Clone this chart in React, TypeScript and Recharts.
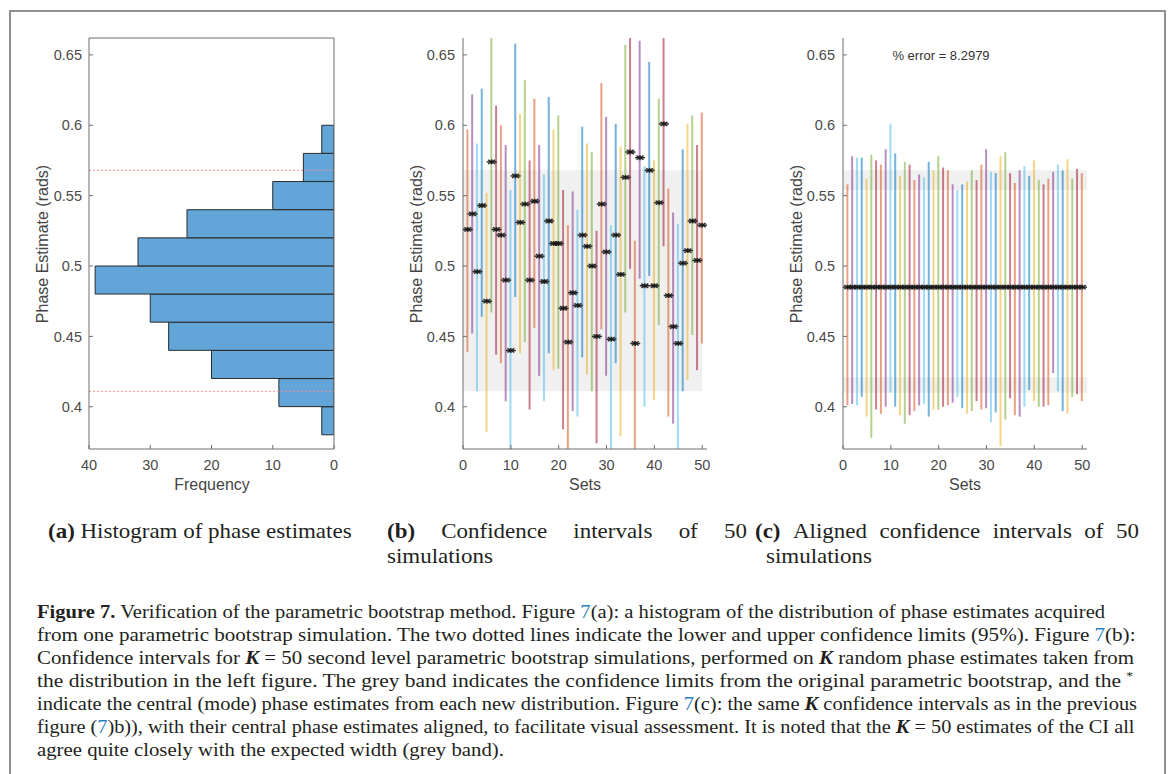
import { useLayoutEffect, useRef, useState } from 'react'
import { ComposedChart, Bar, Cell, Scatter, XAxis, YAxis, ReferenceArea, ReferenceLine } from 'recharts'

// (a) histogram of phase estimates
const histBinCentres = [0.39, 0.41, 0.43, 0.45, 0.47, 0.49, 0.51, 0.53, 0.55, 0.57, 0.59]
const histCounts = [2, 9, 20, 27, 30, 39, 32, 24, 10, 5, 2]
const ciLimits = [0.411, 0.568]

// (b) confidence intervals of 50 simulations
const setCentres = [
  0.526, 0.537, 0.496, 0.543, 0.475, 0.574, 0.526, 0.522, 0.49, 0.44,
  0.564, 0.531, 0.544, 0.49, 0.546, 0.507, 0.489, 0.532, 0.516, 0.516,
  0.47, 0.446, 0.481, 0.472, 0.522, 0.514, 0.5, 0.45, 0.544, 0.51,
  0.448, 0.522, 0.494, 0.563, 0.581, 0.445, 0.577, 0.486, 0.568, 0.486,
  0.545, 0.601, 0.479, 0.457, 0.445, 0.502, 0.511, 0.532, 0.504, 0.529,
]
const setHigh = [
  0.597, 0.622, 0.587, 0.626, 0.552, 0.662, 0.614, 0.6, 0.586, 0.554,
  0.658, 0.608, 0.632, 0.575, 0.619, 0.586, 0.565, 0.62, 0.597, 0.607,
  0.554, 0.529, 0.553, 0.54, 0.599, 0.587, 0.581, 0.525, 0.63, 0.606,
  0.529, 0.601, 0.585, 0.657, 0.662, 0.518, 0.66, 0.571, 0.645, 0.575,
  0.619, 0.662, 0.555, 0.538, 0.53, 0.583, 0.601, 0.607, 0.586, 0.609,
]
const setLow = [
  0.439, 0.452, 0.411, 0.464, 0.382, 0.467, 0.437, 0.431, 0.404, 0.37,
  0.478, 0.438, 0.446, 0.398, 0.456, 0.422, 0.404, 0.438, 0.426, 0.427,
  0.384, 0.37, 0.397, 0.393, 0.435, 0.423, 0.411, 0.374, 0.455, 0.422,
  0.37, 0.431, 0.379, 0.467, 0.498, 0.37, 0.491, 0.4, 0.493, 0.405,
  0.458, 0.514, 0.393, 0.388, 0.37, 0.411, 0.419, 0.451, 0.426, 0.445,
]

// (c) the same intervals, aligned on a common centre
const alignedCentre = 0.485
const alignedHigh = [
  0.558, 0.578, 0.577, 0.577, 0.562, 0.579, 0.575, 0.572, 0.583, 0.601,
  0.58, 0.564, 0.574, 0.572, 0.561, 0.565, 0.563, 0.574, 0.568, 0.578,
  0.57, 0.568, 0.558, 0.554, 0.558, 0.56, 0.568, 0.561, 0.572, 0.583,
  0.567, 0.566, 0.578, 0.581, 0.566, 0.559, 0.568, 0.571, 0.564, 0.575,
  0.561, 0.558, 0.562, 0.567, 0.572, 0.568, 0.576, 0.562, 0.569, 0.566,
]
const alignedLow = [
  0.401, 0.402, 0.401, 0.407, 0.393, 0.378, 0.398, 0.395, 0.4, 0.41,
  0.4, 0.394, 0.388, 0.394, 0.397, 0.401, 0.402, 0.393, 0.398, 0.398,
  0.4, 0.401, 0.403, 0.407, 0.399, 0.395, 0.397, 0.404, 0.398, 0.399,
  0.389, 0.396, 0.372, 0.391, 0.406, 0.394, 0.393, 0.4, 0.412, 0.404,
  0.4, 0.4, 0.401, 0.424, 0.411, 0.397, 0.395, 0.407, 0.409, 0.404,
]

const phaseTicks = [0.4, 0.45, 0.5, 0.55, 0.6, 0.65]
const freqTicks = [0, 10, 20, 30, 40]
const setTicks = [0, 10, 20, 30, 40, 50]
const phaseDomain = [0.37, 0.662]
const cycleColours = ['#D95319', '#7E2F8E', '#4DBEEE', '#0072BD', '#EDB120', '#77AC30', '#A2142F']

const greyBandB = [[0, 50, 0.411, 0.568]]
const greyBandC = [
  [0, 51, 0.554, 0.568],
  [0, 51, 0.41, 0.421],
]

const axisGrey = '#6e6e6e'
const tickStyle = { fontSize: 14.5, fill: '#4a4a4a' }
const sans = '"Liberation Sans", Arial, sans-serif'
const serif = '"Liberation Serif", "Times New Roman", serif'
const linkBlue = '#2d7fc0'

function Star(props: any) {
  const cx = props.cx ?? (props.x != null ? props.x + (props.width || 0) / 2 : null)
  const cy = props.cy ?? (props.y != null ? props.y + (props.height || 0) / 2 : null)
  if (cx == null || cy == null) return null
  return (
    <g stroke="#1a1a1a" strokeWidth={1.5} strokeOpacity={0.9}>
      <line x1={cx - 5} y1={cy} x2={cx + 5} y2={cy} />
      <line x1={cx - 3.5} y1={cy - 2} x2={cx + 3.5} y2={cy + 2} />
      <line x1={cx - 3.5} y1={cy + 2} x2={cx + 3.5} y2={cy - 2} />
      <line x1={cx} y1={cy - 2.5} x2={cx} y2={cy + 2.5} />
    </g>
  )
}

function HistogramPanel() {
  const rows = histBinCentres.map((centre, i) => ({ centre, count: histCounts[i] }))
  return (
    <div style={{ position: 'absolute', left: 20, top: 20, fontFamily: sans }}>
      <ComposedChart
        width={330}
        height={459}
        data={rows}
        layout="vertical"
        barCategoryGap={0}
        barGap={0}
        margin={{ top: 18, right: 16, bottom: 0, left: 0 }}
      >
        <XAxis
          type="number"
          domain={[0, 40]}
          ticks={freqTicks}
          reversed
          allowDataOverflow
          height={30}
          tickSize={-4}
          tickMargin={15}
          tick={tickStyle}
          axisLine={{ stroke: axisGrey }}
          tickLine={{ stroke: axisGrey }}
        />
        <YAxis
          type="number"
          dataKey="centre"
          domain={phaseDomain}
          ticks={phaseTicks}
          reversed
          allowDataOverflow
          width={69}
          tickSize={-4}
          tickMargin={11}
          tick={tickStyle}
          axisLine={{ stroke: axisGrey }}
          tickLine={{ stroke: axisGrey }}
        />
        <Bar dataKey="count" fill="#62a6d9" stroke="#2b2b2b" strokeWidth={1} isAnimationActive={false} />
        {ciLimits.map((v) => (
          <ReferenceLine key={v} y={v} stroke="#f08c8c" strokeDasharray="2 2" />
        ))}
        {/* box edges: top and right */}
        <ReferenceLine y={phaseDomain[1]} stroke={axisGrey} />
        <ReferenceLine x={0} stroke={axisGrey} />
      </ComposedChart>
    </div>
  )
}

function IntervalPanel({ left, centres, low, high, bands }: {
  left: number
  centres: number[]
  low: number[]
  high: number[]
  bands: number[][]
}) {
  const rows = centres.map((centre, i) => ({ set: i + 1, centre, range: [low[i], high[i]] }))
  return (
    <div style={{ position: 'absolute', left, top: 20, fontFamily: sans }}>
      <ComposedChart width={320} height={459} data={rows} margin={{ top: 18, right: 13, bottom: 0, left: 0 }}>
        {bands.map(([x1, x2, y1, y2]) => (
          <ReferenceArea key={y1} x1={x1} x2={x2} y1={y1} y2={y2} fill="#000" fillOpacity={0.06} stroke="none" />
        ))}
        <XAxis
          type="number"
          dataKey="set"
          domain={[0, 51]}
          ticks={setTicks}
          allowDataOverflow
          height={30}
          tickSize={-4}
          tickMargin={15}
          tick={tickStyle}
          axisLine={{ stroke: axisGrey }}
          tickLine={{ stroke: axisGrey }}
        />
        <YAxis
          type="number"
          domain={phaseDomain}
          ticks={phaseTicks}
          allowDataOverflow
          width={63}
          tickSize={-4}
          tickMargin={12}
          tick={tickStyle}
          axisLine={{ stroke: axisGrey }}
          tickLine={{ stroke: axisGrey }}
        />
        <Bar dataKey="range" barSize={2} isAnimationActive={false}>
          {rows.map((r, i) => (
            <Cell key={r.set} fill={cycleColours[i % cycleColours.length]} fillOpacity={0.55} />
          ))}
        </Bar>
        <Scatter dataKey="centre" shape={Star} isAnimationActive={false} />
      </ComposedChart>
    </div>
  )
}

function AxisTitle({ x, y, text, vertical }: { x: number; y: number; text: string; vertical?: boolean }) {
  return (
    <div
      style={{
        position: 'absolute',
        left: x,
        top: y,
        fontFamily: sans,
        fontSize: 16,
        color: '#454545',
        whiteSpace: 'nowrap',
        lineHeight: '18px',
        transform: vertical ? 'translate(-50%, -50%) rotate(-90deg)' : 'translate(-50%, -50%)',
      }}
    >
      {text}
    </div>
  )
}

const K = () => (
  <b>
    <i>K</i>
  </b>
)
const Seven = () => <span style={{ color: linkBlue }}>7</span>

function FigureCaption() {
  const lines = [
    <>
      <b>Figure 7.</b> Verification of the parametric bootstrap method. Figure <Seven />(a): a histogram of the distribution of phase estimates acquired
    </>,
    <>
      from one parametric bootstrap simulation. The two dotted lines indicate the lower and upper confidence limits (95%). Figure <Seven />(b):
    </>,
    <>
      Confidence intervals for <K /> = 50 second level parametric bootstrap simulations, performed on <K /> random phase estimates taken from
    </>,
    <>
      the distribution in the left figure. The grey band indicates the confidence limits from the original parametric bootstrap, and the{' '}
      <span style={{ fontSize: 12, position: 'relative', top: -7 }}>*</span>
    </>,
    <>
      indicate the central (mode) phase estimates from each new distribution. Figure <Seven />(c): the same <K /> confidence intervals as in the previous
    </>,
    <>
      figure (<Seven />)b)), with their central phase estimates aligned, to facilitate visual assessment. It is noted that the <K /> = 50 estimates of the CI all
    </>,
    <>agree quite closely with the expected width (grey band).</>,
  ]
  const rightEdges = [1105, 1136, 1134, 1133, 1137, 1135, null]
  const left = 37
  const refs = useRef<(HTMLDivElement | null)[]>([])
  const [scales, setScales] = useState<number[]>(lines.map(() => 1))

  useLayoutEffect(() => {
    const s = rightEdges.map((r, i) => {
      const el = refs.current[i]
      if (!el || r == null) return NaN
      return (r - left) / el.offsetWidth
    })
    const known = s.filter((v) => !isNaN(v))
    const avg = known.reduce((a, b) => a + b, 0) / known.length
    setScales(s.map((v) => (isNaN(v) ? avg : v)))
  }, [])

  return (
    <>
      {lines.map((content, i) => (
        <div
          key={i}
          ref={(el) => {
            refs.current[i] = el
          }}
          style={{
            position: 'absolute',
            left,
            top: 618 + 23 * i - 18.4,
            fontFamily: serif,
            fontSize: 19,
            lineHeight: '24px',
            color: '#231f20',
            whiteSpace: 'nowrap',
            transformOrigin: '0 0',
            transform: `scaleX(${scales[i]})`,
          }}
        >
          {content}
        </div>
      ))}
    </>
  )
}

function SubCaptions() {
  const ref = useRef<HTMLDivElement>(null)
  const [s, setS] = useState(1)
  useLayoutEffect(() => {
    if (ref.current) setS((352 - 48) / ref.current.offsetWidth)
  }, [])
  const base = {
    position: 'absolute' as const,
    fontFamily: serif,
    fontSize: 21,
    lineHeight: '24px',
    color: '#231f20',
    whiteSpace: 'nowrap' as const,
    transformOrigin: '0 0',
    transform: `scaleX(${s})`,
  }
  const topOf = (baseline: number) => baseline - 19.1
  const spread = (l: number, r: number, words: React.ReactNode[]) => (
    <div style={{ ...base, left: l, top: topOf(538), width: (r - l) / s, display: 'flex', justifyContent: 'space-between' }}>
      {words.map((w, i) => (
        <span key={i}>{w}</span>
      ))}
    </div>
  )
  return (
    <>
      <div ref={ref} style={{ ...base, left: 48, top: topOf(538) }}>
        <b>(a)</b> Histogram of phase estimates
      </div>
      {spread(387, 747, [<b>(b)</b>, 'Confidence', 'intervals', 'of', '50'])}
      <div style={{ ...base, left: 387, top: topOf(563) }}>simulations</div>
      {spread(755, 1139, [<b>(c)</b>, 'Aligned', 'confidence', 'intervals', 'of', '50'])}
      <div style={{ ...base, left: 766, top: topOf(563) }}>simulations</div>
    </>
  )
}

export default function App() {
  return (
    <div style={{ position: 'absolute', left: 0, top: 0, width: 1171, height: 774, overflow: 'hidden', background: '#fff' }}>
      <div
        style={{
          position: 'absolute',
          left: 9,
          top: 10,
          width: 1157,
          height: 820,
          border: '2px solid #8f8f8f',
          boxSizing: 'border-box',
        }}
      />
      <HistogramPanel />
      <IntervalPanel left={400} centres={setCentres} low={setLow} high={setHigh} bands={greyBandB} />
      <IntervalPanel
        left={780}
        centres={setCentres.map(() => alignedCentre)}
        low={alignedLow}
        high={alignedHigh}
        bands={greyBandC}
      />
      <div
        style={{
          position: 'absolute',
          left: 941,
          top: 55,
          transform: 'translate(-50%, -50%)',
          fontFamily: sans,
          fontSize: 13,
          color: '#333',
          whiteSpace: 'nowrap',
        }}
      >
        % error = 8.2979
      </div>
      <AxisTitle x={43} y={244} text="Phase Estimate (rads)" vertical />
      <AxisTitle x={417} y={244} text="Phase Estimate (rads)" vertical />
      <AxisTitle x={797} y={244} text="Phase Estimate (rads)" vertical />
      <AxisTitle x={212} y={485} text="Frequency" />
      <AxisTitle x={585} y={485} text="Sets" />
      <AxisTitle x={965} y={485} text="Sets" />
      <SubCaptions />
      <FigureCaption />
    </div>
  )
}
